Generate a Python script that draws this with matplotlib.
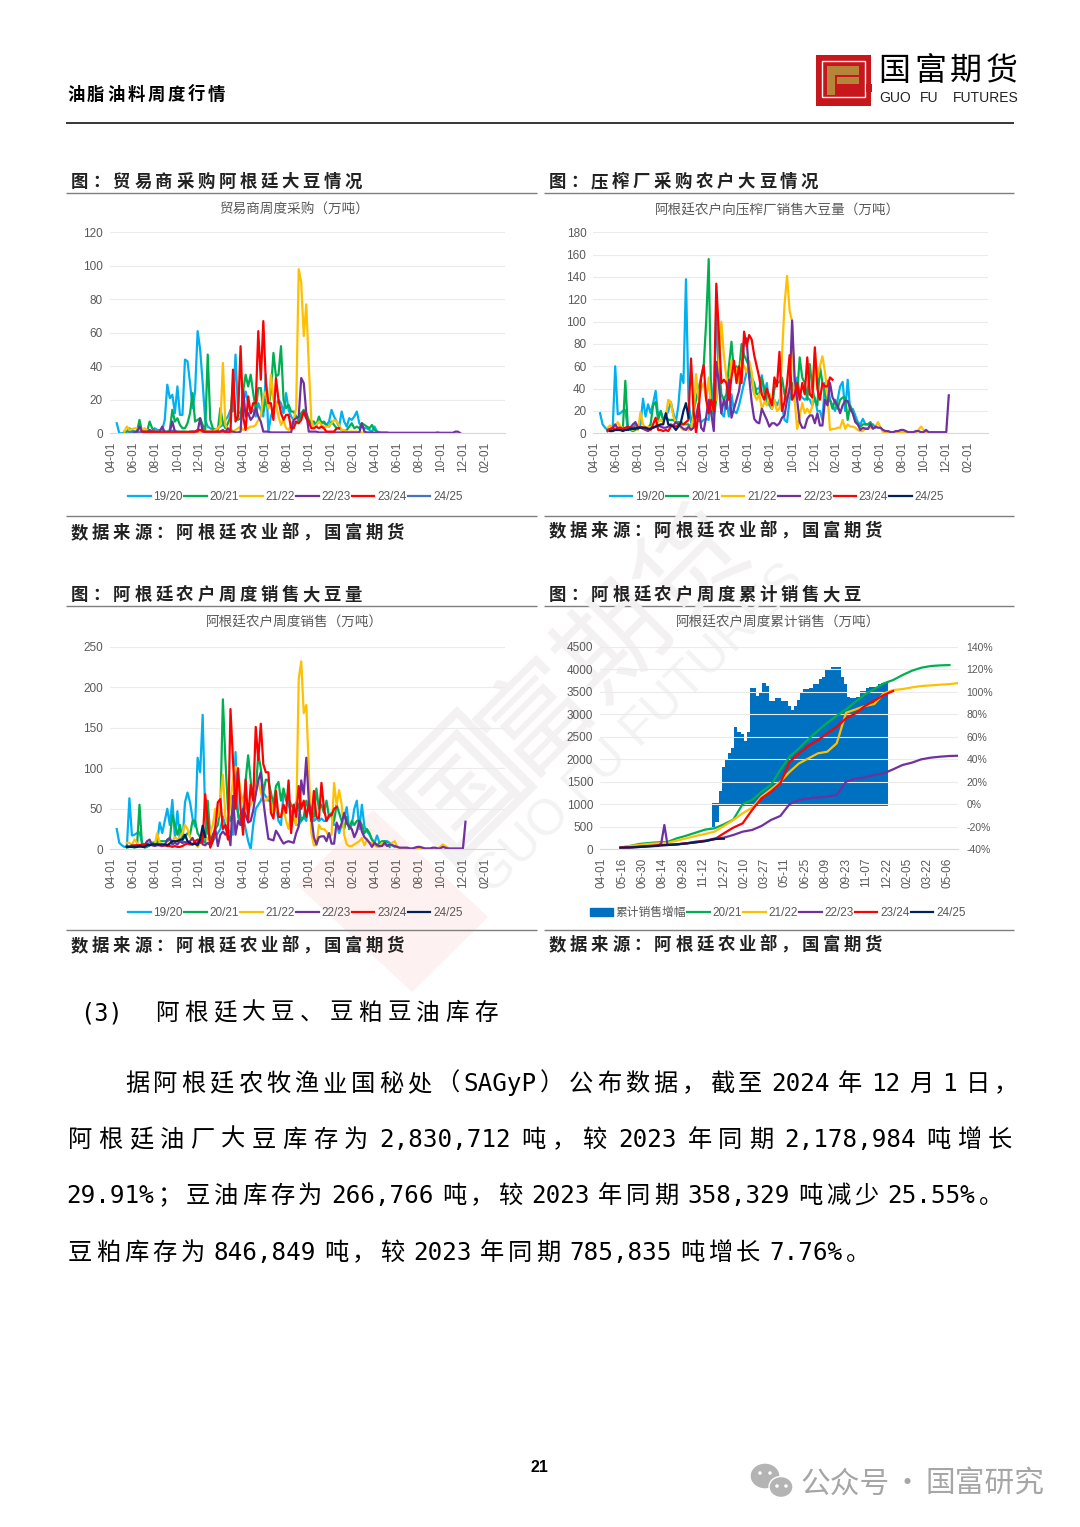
import matplotlib
matplotlib.use('Agg')
import matplotlib.pyplot as plt
from matplotlib.patches import Rectangle, Polygon, Ellipse, Patch
from matplotlib.lines import Line2D
from matplotlib.font_manager import FontProperties

plt.rcParams['font.family'] = ['Noto Sans CJK SC', 'DejaVu Sans']

W, H = 1080, 1527

# x 轴标签
month_labels = ['04-01', '06-01', '08-01', '10-01', '12-01', '02-01'] * 3
cum_labels = ['04-01', '05-16', '06-30', '08-14', '09-28', '11-12', '12-27', '02-10', '03-27',
              '05-11', '06-25', '08-09', '09-23', '11-07', '12-22', '02-05', '03-22', '05-06']
seasons = ['19/20', '20/21', '21/22', '22/23', '23/24', '24/25']

# ----------------------
# 图1 贸易商周度采购 (起始周, 周度值)
# ----------------------
t19_start = 2
t19 = [6, 0, 0, 0.5, 1, 3, 2, 1, 1, 1, 0.5, 1, 1, 1, 1, 3, 2, 2, 2, 8, 29, 21, 23, 12, 28, 11, 11, 44, 43, 30, 15, 25,
       61, 50, 30, 8, 4, 3, 2, 2, 3, 4, 5, 8, 10, 14, 13, 47, 13, 12, 18, 25, 18, 12, 14, 10, 18, 14, 10, 35, 1, 10,
       15, 17, 20, 18, 12, 24, 14, 10, 8, 6, 8, 10, 12, 9, 7, 6, 6, 5, 7, 7, 6, 5, 7, 14, 10, 7, 4, 13, 7, 4, 9, 8,
       10, 13, 6, 4, 3, 3, 2, 1, 4, 1, 0.5, 0.5, 0.5, 0.5]
t20_start = 5
t20 = [1, 1, 1, 1, 1, 1, 8, 1, 1, 1, 7, 3, 1, 1, 1, 1, 1, 1, 2, 14, 7, 9, 5, 3, 3, 6, 12, 24, 7, 8, 9, 5, 1, 47, 8, 3,
       2, 2, 15, 6, 3, 6, 10, 30, 10, 8, 9, 25, 35, 28, 35, 24, 14, 27, 27, 13, 20, 15, 25, 48, 34, 35, 52, 20, 15, 17,
       13, 13, 10, 8, 12, 14, 12, 8, 7, 7, 5, 10, 6, 7, 5, 4, 7, 5, 3, 3, 2, 1, 2, 4, 6, 3, 4, 3, 6, 5, 4, 3, 5, 2, 1,
       0.5]
t21_start = 5
t21 = [1, 4, 2, 2.5, 3, 3, 2, 2, 3, 2, 1, 1, 1, 1, 1, 1, 1, 1, 1, 1, 1, 1, 1, 1, 1, 1, 1, 1, 1, 1, 1, 1, 1, 1, 1, 1, 2,
       3, 5, 42, 5, 2, 3, 1, 2, 3, 4, 2, 3, 3, 4, 4, 5, 8, 10, 22, 25, 15, 35, 20, 18, 10, 5, 8, 3, 2, 5, 8, 15, 98, 90,
       58, 77, 40, 8, 3, 5, 7, 5, 4, 4, 4, 6, 8, 7, 5, 2, 2, 1, 1, 1, 1, 1, 0.5, 0.5, 0.3]
t22_start = 9
t22 = [0.5, 1, 4, 1, 0.5, 0.5, 2, 1, 1, 1, 1, 4, 0.5, 0.5, 1, 7, 1, 0.5, 0.5, 0.5, 0.5, 0.5, 1, 1, 1, 1, 9, 1, 0.5, 0.5,
       0.5, 0.5, 0.5, 0.5, 1, 2, 0.5, 3, 1, 1, 0.5, 0.5, 1, 26, 10, 12, 8, 10, 15, 10, 7, 1, 1, 1, 0.5, 0.5, 0.5, 0.5,
       0.5, 0.5, 0.5, 0.5, 0.5, 8, 9, 10, 33, 30, 12, 1, 1, 1, 1, 0.5, 0.5, 0.5, 0.5, 0.5, 0.5, 0.5, 0.5, 0.5, 0.5, 0.5,
       0.5, 0.5, 0.5, 0.5, 0.5, 0.5, 6, 1, 0.5, 0.5, 0.5, 0.3, 0.3, 0.3, 0.3, 0.3, 0.3, 0.3, 0.3, 0.3, 0.3, 0.3, 0.3,
       0.3, 0.3, 0.3, 0.3, 0.3, 0.3, 0.3, 0.3, 0.3, 0.3, 0.3, 0.3, 0.3, 0.5, 0.3, 0.3, 0.3, 0.3, 0.3, 0.3, 1, 1, 0]
t23_start = 12
t23 = [1, 1, 1, 0.5, 1, 1, 0.5, 0.5, 0.5, 0.5, 0.5, 0.5, 0.5, 0.5, 0.5, 0.5, 0.5, 0.5, 0.5, 0.5, 0.5, 1, 2, 2, 1.5, 1, 1,
       1, 1, 1, 1, 1, 1, 1, 0.5, 1, 38, 7, 10, 52, 10, 2, 22, 12, 18, 18, 61, 32, 67, 30, 18, 18, 8, 33, 20, 12, 8, 11,
       11, 3, 3, 7, 6, 8, 13, 9, 7, 3, 3, 4, 3, 4, 3, 1, 1, 1, 1, 3, 3]
t24_start = 7
t24 = [0.3, 0.3, 0.5, 0.5, 0.3, 0.5, 0.5, 0.8, 0.8, 0.8, 0.5, 0.8, 0.8, 1, 1, 1, 1, 1.5, 1.5, 1, 1, 1, 1, 0.8, 0.8, 1]

# ----------------------
# 图2 农户向压榨厂销售
# ----------------------
c19_start = 2
c19 = [18, 8, 5, 3, 4, 4, 60, 17, 18, 20, 21, 3, 5, 4, 8, 6, 8, 31, 15, 26, 18, 27, 38, 15, 20, 12, 15, 20, 28, 18, 10,
       25, 53, 45, 138, 30, 10, 8, 8, 12, 10, 12, 13, 12, 45, 20, 112, 50, 18, 15, 30, 15, 35, 20, 18, 25, 35, 45, 55,
       60, 48, 35, 40, 40, 52, 35, 45, 25, 22, 30, 25, 30, 25, 12, 10, 30, 40, 38, 50, 35, 32, 30, 32, 30, 25, 32, 20,
       20, 12, 45, 47, 30, 25, 20, 30, 42, 46, 20, 48, 20, 22, 16, 10, 8, 13, 8, 8, 8, 8, 5]
c20_start = 5
c20 = [2, 3, 3, 3, 3, 3, 3, 47, 5, 3, 2, 3, 5, 5, 5, 4, 5, 8, 25, 28, 12, 20, 12, 15, 12, 12, 12, 10, 10, 10, 8, 8, 8, 5,
       20, 30, 40, 50, 60, 100, 156, 25, 15, 30, 60, 35, 30, 35, 60, 82, 55, 60, 55, 80, 70, 65, 60, 50, 45, 35, 35, 50,
       40, 28, 35, 22, 40, 45, 46, 50, 35, 30, 40, 45, 38, 35, 68, 50, 45, 30, 62, 40, 30, 25, 60, 45, 35, 28, 30, 22,
       30, 22, 30, 32, 32, 12, 25, 18, 12, 8, 6, 8, 8, 8, 10, 5]
c21_start = 5
c21 = [5, 7, 5, 6, 10, 6, 5, 3, 4, 5, 3, 5, 3, 19, 8, 5, 6, 5, 5, 7, 10, 12, 10, 15, 30, 28, 15, 10, 8, 5, 3, 5, 3, 5, 15,
       53, 30, 40, 45, 30, 50, 20, 30, 30, 60, 100, 70, 50, 40, 65, 55, 58, 45, 65, 60, 55, 65, 55, 35, 30, 35, 22, 28,
       25, 35, 22, 30, 20, 22, 70, 115, 141, 110, 100, 30, 4, 15, 27, 18, 22, 18, 24, 73, 50, 60, 69, 55, 35, 3, 4, 4, 5,
       5, 12, 4, 8, 6, 6, 5, 3, 2, 2, 5, 4, 5, 5, 6, 10, 5, 1, 1, 1, 1, 1, 1, 1, 1, 1, 1, 1, 1, 1, 1, 3, 6, 3, 1]
c22_start = 5
c22 = [2, 3, 5, 8, 4, 3, 3, 3, 4, 5, 8, 10, 5, 5, 4, 3, 2, 4, 5, 6, 7, 6, 5, 5, 6, 8, 7, 10, 8, 6, 4, 3, 6, 3, 5, 15, 27,
       5, 2, 15, 30, 18, 2, 64, 45, 18, 30, 22, 48, 14, 22, 30, 38, 55, 83, 85, 50, 28, 13, 10, 9, 22, 17, 12, 6, 9, 9, 7,
       9, 14, 16, 30, 40, 101, 50, 30, 10, 5, 5, 13, 16, 16, 9, 18, 7, 7, 30, 25, 45, 32, 28, 25, 18, 25, 29, 29, 22, 18,
       10, 8, 3, 5, 4, 4, 8, 4, 6, 5, 5, 3, 2, 2, 1, 1, 2, 2, 3, 3, 2, 1, 1, 1, 2, 2, 1, 1, 3, 1, 1, 1, 1, 1, 1, 1, 1, 34]
c23_start = 5
c23 = [3, 4, 5, 3, 5, 5, 4, 5, 6, 5, 5, 5, 4, 6, 5, 5, 4, 3, 8, 14, 3, 3, 2, 3, 2, 6, 7, 6, 7, 8, 8, 10, 12, 67, 20, 0, 20,
       50, 61, 30, 18, 30, 20, 134, 90, 45, 48, 45, 30, 50, 65, 45, 60, 45, 91, 78, 88, 84, 70, 60, 50, 35, 30, 40, 32,
       25, 50, 42, 73, 20, 28, 45, 70, 30, 35, 45, 30, 45, 35, 68, 35, 32, 77, 40, 30, 45, 42, 42, 50, 48]
c24_start = 6
c24 = [2, 2, 3, 3, 3, 2, 3, 3, 4, 4, 4, 5, 5, 5, 5, 4, 4, 5, 6, 7, 8, 8, 18, 8, 7, 6, 3, 6, 10, 20, 27, 14]

# ----------------------
# 图3 农户周度销售
# ----------------------
f19_start = 2
f19 = [25, 8, 5, 3, 3, 63, 17, 18, 20, 21, 8, 5, 6, 8, 8, 8, 10, 33, 20, 35, 50, 30, 61, 15, 47, 10, 8, 58, 70, 58, 38, 28,
       113, 95, 166, 40, 20, 15, 10, 15, 20, 25, 40, 30, 25, 20, 18, 120, 40, 30, 40, 25, 10, 0, 30, 50, 55, 60, 70, 65,
       60, 60, 50, 55, 35, 30, 70, 65, 55, 45, 40, 30, 30, 35, 40, 35, 60, 50, 35, 38, 35, 38, 35, 35, 40, 42, 30, 30,
       20, 30, 40, 52, 25, 30, 50, 60, 25, 55, 28, 22, 18, 12, 8, 17, 8, 8, 10, 10, 8, 5, 3]
f20_start = 6
f20 = [2, 3, 3, 2, 3, 55, 5, 2, 3, 5, 8, 8, 8, 10, 10, 10, 10, 12, 42, 30, 18, 30, 12, 15, 20, 18, 35, 35, 20, 15, 10, 8,
       60, 15, 12, 25, 30, 50, 185, 110, 50, 35, 45, 60, 45, 35, 45, 85, 116, 85, 60, 70, 118, 100, 70, 86, 85, 70, 55,
       78, 83, 60, 75, 60, 62, 55, 50, 58, 55, 35, 40, 60, 50, 45, 40, 75, 50, 55, 45, 60, 40, 45, 35, 55, 45, 35, 25, 40,
       25, 35, 30, 35, 36, 30, 20, 25, 20, 12, 8, 5, 8, 10, 10, 8, 3]
f21_start = 6
f21 = [8, 8, 5, 12, 8, 5, 5, 5, 5, 6, 5, 5, 20, 8, 6, 5, 5, 8, 10, 15, 12, 15, 20, 30, 25, 15, 12, 8, 3, 8, 20, 15, 12, 20,
       30, 50, 40, 60, 92, 40, 30, 60, 85, 102, 95, 70, 60, 50, 52, 55, 60, 70, 85, 70, 60, 60, 65, 60, 45, 50, 45, 40,
       50, 35, 25, 45, 40, 30, 210, 232, 168, 178, 100, 20, 5, 5, 30, 25, 25, 22, 15, 18, 82, 55, 73, 55, 18, 6, 4, 4, 6,
       8, 10, 14, 5, 12, 8, 8, 5, 3, 3, 8, 5, 6, 6, 8, 10, 3, 1, 1, 1, 1, 1, 1, 1, 1, 1, 1, 1, 1, 1, 1, 1, 1, 3, 6, 4, 2, 0]
f22_start = 6
f22 = [3, 3, 5, 3, 3, 3, 5, 5, 10, 12, 5, 4, 5, 5, 4, 5, 12, 14, 6, 8, 6, 10, 8, 9, 8, 10, 14, 7, 8, 14, 6, 5, 8, 5, 18, 25,
       4, 18, 22, 18, 22, 5, 66, 18, 35, 30, 50, 42, 33, 35, 48, 68, 85, 95, 60, 35, 13, 12, 11, 23, 18, 12, 7, 9, 10, 9,
       8, 20, 28, 85, 68, 113, 60, 40, 15, 6, 15, 16, 16, 10, 20, 7, 7, 33, 25, 32, 45, 32, 28, 25, 15, 22, 35, 22, 15, 12,
       8, 3, 8, 5, 4, 4, 8, 4, 6, 5, 4, 3, 2, 2, 2, 2, 1, 1, 2, 3, 3, 2, 1, 1, 1, 2, 2, 1, 1, 3, 2, 1, 1, 1, 1, 1, 1, 1, 34]
f23_start = 6
f23 = [4, 3, 4, 5, 5, 5, 6, 6, 7, 5, 6, 6, 6, 5, 5, 5, 4, 4, 3, 4, 3, 3, 4, 6, 7, 6, 6, 10, 12, 8, 10, 68, 35, 2, 10, 28,
       58, 62, 25, 30, 12, 173, 110, 50, 100, 50, 18, 86, 35, 80, 60, 151, 110, 155, 105, 95, 95, 45, 38, 72, 40, 40, 55,
       45, 85, 20, 55, 40, 78, 50, 60, 40, 55, 35, 72, 40, 38, 82, 50, 35, 42, 42, 50, 52]
f24_start = 6
f24 = [3, 3, 3, 3, 3, 4, 3, 3, 5, 5, 6, 6, 6, 6, 6, 6, 5, 7, 10, 10, 10, 12, 12, 18, 10, 8, 6, 7, 5, 12, 29, 15]

# ----------------------
# 图4 累计销售 (万吨, 每3周读一个点) 与累计销售增幅 (%)
# ----------------------
cum_wk = [6, 9, 12, 15, 18, 21, 24, 27, 30, 33, 36, 39, 42, 45, 48, 51, 54, 57, 60, 63, 66, 69, 72, 75, 78, 81, 84, 87, 90,
          93, 96, 99, 102, 105, 108, 111, 114]
cum20 = [37, 74, 118, 140, 155, 163, 244, 303, 370, 437, 466, 555, 659, 1006, 1095, 1280, 1428, 1761, 2057, 2242, 2450, 2634,
         2812, 2967, 3108, 3278, 3441, 3559, 3685, 3759, 3870, 3966, 4033, 4070, 4085, 4092]
cum21 = [37, 74, 96, 118, 133, 148, 192, 244, 296, 340, 392, 518, 651, 800, 925, 1170, 1332, 1502, 1724, 1909, 2020, 2131,
         2168, 2353, 3034, 3108, 3182, 3226, 3463, 3537, 3559, 3596, 3626, 3641, 3656, 3670, 3693]
cum23 = [37, 44, 59, 74, 89, 96, 111, 133, 155, 185, 222, 355, 481, 577, 873, 1132, 1280, 1465, 1946, 2131, 2301, 2427,
         2575, 2723, 2908, 3019, 3182, 3300, 3426, 3515]
cum24 = [37, 40, 52, 66, 81, 96, 108, 130, 155, 180, 228, 235]
cum22_wk = [6, 9, 12, 15, 18, 19, 20, 21, 24, 27, 30, 33, 36, 39, 42, 45, 48, 51, 54, 57, 60, 63, 66, 69, 72, 75, 78, 81, 84,
            87, 90, 93, 96, 99, 102, 105, 108, 111, 114]
cum22 = [37, 40, 52, 66, 74, 133, 540, 96, 111, 133, 170, 192, 237, 259, 318, 392, 429, 518, 651, 740, 1006, 1095, 1132, 1154,
         1170, 1206, 1502, 1569, 1598, 1650, 1687, 1776, 1872, 1924, 1998, 2035, 2057, 2072, 2079]
incr_start = 35.8
incr = [1.5, 1.5, 12, 33, 39, 46, 50, 69, 64, 62, 56, 64, 103, 103, 96, 100, 108, 105, 92, 92, 94, 94, 92, 92, 87, 84, 87, 93,
        100, 102, 102, 103, 107, 107, 111, 113, 119, 119, 122, 122, 122, 113, 107, 95, 94, 94, 95, 101, 101, 103, 104, 104,
        104, 107, 108, 108]
incr_neg = [-22, -16]

colors = ['#00B0F0', '#00B050', '#FFC000', '#7030A0', '#FF0000', '#002060']
GRAY = '#595959'
LAT = ['Liberation Sans', 'Noto Sans CJK SC']
MONO = ['DejaVu Sans Mono', 'Noto Sans CJK SC']

fig = plt.figure(figsize=(W / 100, H / 100), dpi=100, facecolor='white')
page = fig.add_axes([0, 0, 1, 1], zorder=0)
page.set_xlim(0, W)
page.set_ylim(H, 0)
page.axis('off')
renderer = fig.canvas.get_renderer()


def spread(s, x0, x1, y, size, weight='normal', color='black'):
    # 汉字按全角一格放，数字字母连成一段用等宽字体，空白处拉开到 x0~x1
    tokens = []
    for ch in s:
        if ch.isascii() and ch != ' ' and tokens and tokens[-1].isascii() and tokens[-1] != ' ':
            tokens[-1] += ch
        else:
            tokens.append(ch)
    em = size * 100 / 72
    cjk = FontProperties(family=['Noto Sans CJK SC', 'DejaVu Sans'], size=size, weight=weight)
    mono = FontProperties(family=MONO, size=size, weight=weight)
    widths = []
    for t in tokens:
        if t == ' ':
            widths.append(em * 0.2)
        elif t.isascii():
            widths.append(len(t) * em * 0.6)
        else:
            widths.append(em)
    n = sum(1 for t in tokens if t != ' ')
    gap = (x1 - x0 - sum(widths)) / max(n - 1, 1)
    x = x0
    for t, w in zip(tokens, widths):
        if t == ' ':
            x += w
            continue
        if t.isascii():
            page.text(x, y + 1, t, fontproperties=mono, color=color, va='center', ha='left')
        elif t in '（':
            page.text(x + em, y + 1, t, fontproperties=cjk, color=color, va='center', ha='right')
        else:
            page.text(x, y + 1, t, fontproperties=cjk, color=color, va='center', ha='left')
        x += w + gap


def rule(x0, x1, y, color='#7f7f7f', lw=1.0):
    page.plot([x0, x1], [y, y], color=color, lw=lw, solid_capstyle='butt')


def make_axes(left, right, top, bottom):
    return fig.add_axes([left / W, 1 - bottom / H, (right - left) / W, (bottom - top) / H], zorder=2, facecolor='none')


def style(ax, labels, tick_step, px_first, px_per_wk, px_left, px_right, ymax, ystep):
    ax.set_xlim((px_left - px_first) / px_per_wk, (px_right - px_first) / px_per_wk)
    ax.set_ylim(0, ymax)
    ax.set_yticks(range(0, ymax + 1, ystep))
    ax.set_xticks([i * tick_step for i in range(len(labels))])
    ax.set_xticklabels(labels, rotation=90, family=LAT, fontsize=8.5, color=GRAY)
    ax.tick_params(axis='x', length=0, pad=6)
    ax.tick_params(axis='y', length=0, labelcolor=GRAY, labelsize=8.5, pad=5)
    for lab in ax.get_yticklabels():
        lab.set_family(LAT)
    ax.grid(axis='y', color='#ebebeb', lw=0.8)
    ax.set_axisbelow(True)
    for k in ['top', 'left', 'right']:
        ax.spines[k].set_visible(False)
    ax.spines['bottom'].set_color('#d9d9d9')
    ax.spines['bottom'].set_linewidth(0.8)


def draw_lines(ax, series, line_colors):
    for (start, vals), c in zip(series, line_colors):
        ax.plot(range(start, start + len(vals)), vals, color=c, lw=1.6)


def legend(ax, handles, labels, cx, cy):
    ax.legend(handles, labels, loc='center', bbox_to_anchor=(cx, cy), bbox_transform=page.transData, ncol=len(labels),
              frameon=False, handlelength=1.9, columnspacing=0.1, handletextpad=0.25, labelcolor=GRAY, borderpad=0,
              prop={'family': LAT, 'size': 8.5})


# ----------------------
# 水印
# ----------------------
page.add_patch(Polygon([(373, 810), (488, 917), (412, 992), (297, 885)], closed=True, fc='#fdf1f1', ec='none'))
page.add_patch(Polygon([(457, 712), (532, 787), (457, 862), (382, 787)], closed=True, fc='none', ec='#f3f1f1', lw=6))
page.text(577, 678, '国富期货', fontsize=78, rotation=45, color='#f3f1f1', ha='center', va='center')
page.text(640, 730, 'GUO FU FUTURES', fontsize=36, rotation=45, color='#f3f3f3', ha='center', va='center', family=LAT)

# ----------------------
# 页眉
# ----------------------
spread('油脂油料周度行情', 67, 225, 94, 12.5, weight='bold')
rule(66, 1014, 123, color='black', lw=1.1)
page.add_patch(Rectangle((816, 55), 55, 51, fc='#C8161D', ec='none'))
page.add_patch(Rectangle((822, 61), 43, 36, fc='none', ec='white', lw=1.0))
page.add_patch(Rectangle((827, 66), 32, 9, fc='#B5853A', ec='none'))
page.add_patch(Rectangle((827, 66), 8, 29, fc='#B5853A', ec='none'))
page.add_patch(Rectangle((837, 77), 22, 7, fc='#B5853A', ec='none'))
page.add_patch(Rectangle((866, 84), 6, 8, fc='#C8161D', ec='none'))
spread('国富期货', 878, 1018, 70, 23, weight=500)
page.text(879, 98, 'GUO', family=LAT, fontsize=10, color='#222222', va='center')
page.text(920, 98, 'FU', family=LAT, fontsize=10, color='#222222', va='center')
page.text(953, 98, 'FUTURES', family=LAT, fontsize=10, color='#222222', va='center')

# ----------------------
# 小标题和来源
# ----------------------
spread('图：贸易商采购阿根廷大豆情况', 71, 362, 181, 12.5, weight='bold', color='#222222')
spread('图：压榨厂采购农户大豆情况', 549, 818, 181, 12.5, weight='bold', color='#222222')
spread('图：阿根廷农户周度销售大豆量', 71, 362, 594, 12.5, weight='bold', color='#222222')
spread('图：阿根廷农户周度累计销售大豆', 549, 861, 594, 12.5, weight='bold', color='#222222')
for x0, x1, y in [(71, 404, 532), (549, 882, 530), (71, 404, 945), (549, 882, 944)]:
    spread('数据来源：阿根廷农业部，国富期货', x0, x1, y, 12.5, weight='bold', color='#222222')
for y in [193, 516, 606, 930]:
    rule(66, 537, y)
    rule(544, 1014, y)

for cx, y, s in [(294, 210, '贸易商周度采购（万吨）'), (778, 210, '阿根廷农户向压榨厂销售大豆量（万吨）'),
                 (294, 623, '阿根廷农户周度销售（万吨）'), (778, 623, '阿根廷农户周度累计销售（万吨）')]:
    page.text(cx, y, s, fontsize=9.8, color=GRAY, ha='center', va='center')

# ----------------------
# 图1
# ----------------------
ax1 = make_axes(110, 505, 232.3, 433.3)
style(ax1, month_labels, 8.69, 111.7, 2.527, 110, 505, 120, 20)
draw_lines(ax1, [(t19_start, t19), (t20_start, t20), (t21_start, t21), (t24_start, t24), (t22_start, t22), (t23_start, t23)],
           colors[:3] + ['#4472C4'] + colors[3:5])
h1 = [Line2D([], [], color=c, lw=1.6) for c in colors[:5] + ['#4472C4']]
legend(ax1, h1, seasons, 295.5, 497)

# ----------------------
# 图2
# ----------------------
ax2 = make_axes(593.3, 988.3, 232.3, 433.3)
style(ax2, month_labels, 8.69, 595, 2.527, 593.3, 988.3, 180, 20)
draw_lines(ax2, [(c19_start, c19), (c20_start, c20), (c21_start, c21), (c22_start, c22), (c23_start, c23), (c24_start, c24)], colors)
h2 = [Line2D([], [], color=c, lw=1.6) for c in colors]
legend(ax2, h2, seasons, 777, 497)

# ----------------------
# 图3
# ----------------------
ax3 = make_axes(110, 505, 646.7, 849.3)
style(ax3, month_labels, 8.69, 111.7, 2.527, 110, 505, 250, 50)
draw_lines(ax3, [(f19_start, f19), (f20_start, f20), (f21_start, f21), (f22_start, f22), (f23_start, f23), (f24_start, f24)], colors)
legend(ax3, h2, seasons, 295.5, 913)

# ----------------------
# 图4
# ----------------------
ax4 = make_axes(600, 958.3, 646.7, 849.3)
style(ax4, cum_labels, 6.5, 601.7, 3.133, 600, 958.3, 4500, 500)
ax4b = ax4.twinx()
ax4b.set_zorder(1)
ax4.set_zorder(3)
ax4b.set_ylim(-40, 140)
ax4b.set_yticks(range(-40, 141, 20))
ax4b.set_yticklabels([f'{v}%' for v in range(-40, 141, 20)], family=LAT, fontsize=7.5, color=GRAY)
ax4b.tick_params(axis='y', length=0, pad=6)
for k in ax4b.spines:
    ax4b.spines[k].set_visible(False)
bar_base = -1.5
ax4b.bar([incr_start + i for i in range(len(incr))], [v - bar_base for v in incr], bottom=bar_base, width=1.02,
         color='#0070C0', antialiased=False)
ax4b.bar([incr_start + i for i in range(len(incr_neg))], incr_neg, width=1.02, color='#0070C0', antialiased=False)
ax4.plot(cum_wk[:len(cum20)], cum20, color=colors[1], lw=1.6)
ax4.plot(cum_wk, cum21, color=colors[2], lw=1.6)
ax4.plot(cum22_wk, cum22, color=colors[3], lw=1.6)
ax4.plot(cum_wk[:len(cum23)], cum23, color=colors[4], lw=1.6)
ax4.plot(cum_wk[:len(cum24)], cum24, color=colors[5], lw=1.6)
h4 = [Patch(color='#0070C0')] + h2[1:]
ax4.legend(h4, ['累计销售增幅'] + seasons[1:], loc='center', bbox_to_anchor=(778, 913), bbox_transform=page.transData, ncol=6,
           frameon=False, handlelength=1.9, columnspacing=0.1, handletextpad=0.25, labelcolor=GRAY, borderpad=0,
           prop={'family': LAT, 'size': 8.5})

# ----------------------
# 正文
# ----------------------
spread('(3)', 80, 122, 1012, 17)
spread('阿根廷大豆、豆粕豆油库存', 155, 498, 1012, 17)
spread('据阿根廷农牧渔业国秘处（SAGyP）公布数据，截至 2024 年 12 月 1 日，', 125, 1018, 1083, 17.5)
spread('阿根廷油厂大豆库存为 2,830,712 吨，较 2023 年同期 2,178,984 吨增长', 68, 1012, 1139, 17.5)
spread('29.91%；豆油库存为 266,766 吨，较 2023 年同期 358,329 吨减少 25.55%。', 66, 1003, 1195, 17.5)
spread('豆粕库存为 846,849 吨，较 2023 年同期 785,835 吨增长 7.76%。', 68, 870, 1252, 17.5)

page.text(539, 1468, '21', family=LAT, fontsize=11.5, fontweight='bold', ha='center', va='center')

# 公众号水印
for cx, cy, a, b in [(765, 1476, 15, 13), (781, 1487, 12, 10.5)]:
    page.add_patch(Ellipse((cx, cy), 2 * a, 2 * b, fc='#b4b4b4', ec='white', lw=1))
for cx, cy in [(760, 1473), (770, 1473), (777, 1486), (786, 1486)]:
    page.add_patch(Ellipse((cx, cy), 3.5, 3.5, fc='white', ec='none'))
page.text(800, 1484, '公众号', fontsize=21.4, color='#a6a6a6', va='center')
page.text(907, 1484, '·', fontsize=21, color='#a6a6a6', va='center', ha='center')
page.text(925, 1484, '国富研究', fontsize=21.4, color='#a6a6a6', va='center')

fig.savefig('out.png', dpi=100, facecolor='white')
